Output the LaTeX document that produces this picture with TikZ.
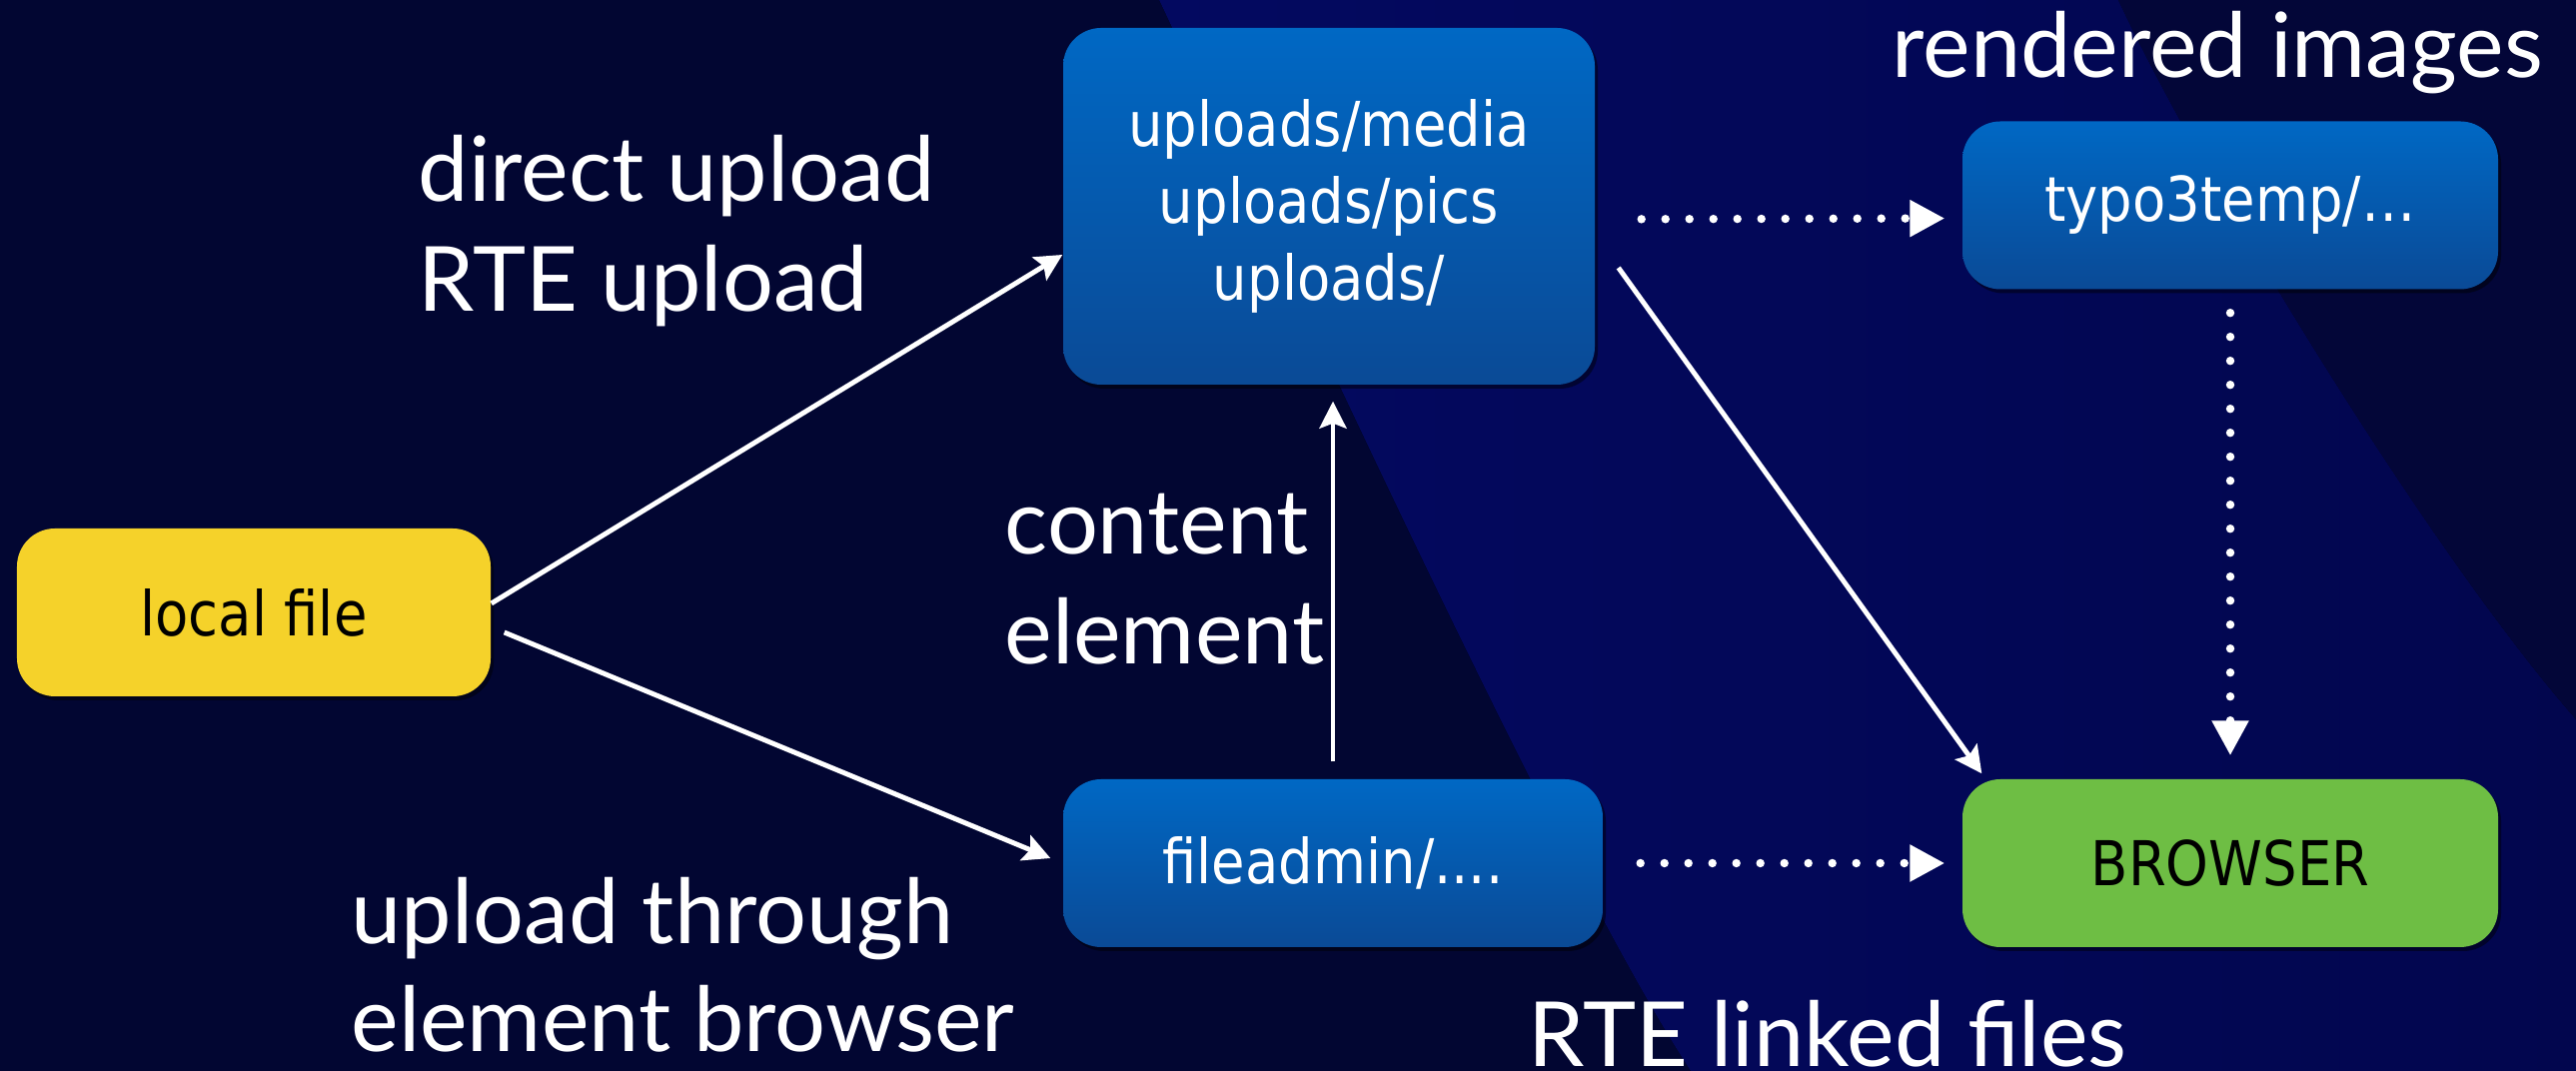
\documentclass[tikz,border=0pt]{standalone}
\usepackage{fontspec}
\setmainfont{Lato}
\newfontfamily\boxfont[FakeStretch=0.88]{DejaVu Sans}
\usetikzlibrary{arrows.meta,shadows}
\definecolor{bgleft}{RGB}{2,6,50}
\definecolor{bgright}{RGB}{3,6,56}
\definecolor{bandl}{RGB}{3,9,96}
\definecolor{bandr}{RGB}{2,6,78}
\definecolor{boxtop}{RGB}{0,104,196}
\definecolor{boxbot}{RGB}{10,74,150}
\definecolor{fileyel}{RGB}{245,210,42}
\definecolor{browgreen}{RGB}{110,190,68}
\begin{document}
\begin{tikzpicture}[
  box/.style={rounded corners=0.38cm, minimum width=5.36cm, minimum height=1.68cm, inner sep=0pt,
    align=center, font=\boxfont\fontsize{17.6}{21.9}\selectfont,
    drop shadow={shadow xshift=0.03cm, shadow yshift=-0.04cm, opacity=0.45, fill=black}},
  bluebox/.style={box, top color=boxtop, bottom color=boxbot, text=white},
  lbl/.style={anchor=base west, inner sep=0pt, text=white, font=\fontsize{25.6}{30}\selectfont},
  arr/.style={white, line width=1.4pt, -{Stealth[length=0.27cm, width=0.27cm, inset=0.05cm]}},
  dots/.style={white, line width=2.4pt, line cap=round, dash pattern=on 0pt off 0.24cm,
    -{Triangle[length=0.35cm, width=0.35cm]}}
]
\useasboundingbox (0,0) rectangle (25.78,10.72);
\fill[bgleft] (0,0) rectangle (25.78,10.72);
\fill[left color=bandl, right color=bandr] (11.60,10.72) .. controls (12.6,8.6) and (15.6,2.0) .. (16.92,0)
  -- (25.78,0) -- (25.78,3.52) .. controls (24.3,5.2) and (22.0,9.0) .. (21.20,10.72) -- cycle;
\fill[bgright] (21.20,10.72) .. controls (22.0,9.0) and (24.3,5.2) .. (25.78,3.52) -- (25.78,10.72) -- cycle;

\node[box, fill=fileyel, minimum width=4.74cm] (local) at (2.54,4.59) {local file};
\node[bluebox, minimum width=5.32cm, minimum height=3.57cm] (uploads) at (13.30,8.655) {uploads/media\\uploads/pics\\uploads/};
\node[bluebox] (typo) at (22.32,8.665) {typo3temp/…};
\node[bluebox, minimum width=5.40cm] (fileadmin) at (13.34,2.08) {fileadmin/....};
\node[box, fill=browgreen] (browser) at (22.32,2.08) {BROWSER};

\draw[arr] ([yshift=0.09cm]local.east) -- ([yshift=-0.485cm]uploads.west);
\draw[arr, shorten >=0.13cm] ([shift={(0.13,-0.20)}]local.east) -- (fileadmin.west);
\draw[arr, shorten <=0.17cm, shorten >=0.16cm] (fileadmin.north) -- (fileadmin.north |- uploads.south);
\draw[arr] ([shift={(0.23,-0.615)}]uploads.east) -- ([shift={(0.2,0.05)}]browser.north west);
\draw[dots, shorten <=0.46cm, shorten >=0.17cm] ([yshift=-0.13cm]uploads.east) -- ([yshift=-0.13cm]typo.west);
\draw[dots, shorten <=0.37cm, shorten >=0.17cm] (fileadmin.east) -- (browser.west);
\draw[dots, shorten <=0.23cm, shorten >=0.23cm] (typo.south) -- (browser.north);

\node[lbl] (dirup) at (4.18,8.70) {direct upload};
\node[lbl] (rteup) at (4.18,7.60) {RTE upload};
\node[lbl] (cont) at (10.05,5.17) {content};
\node[lbl] (elem) at (10.05,4.07) {element};
\node[lbl] (upthr) at (3.51,1.27) {upload through};
\node[lbl] (elbrow) at (3.51,0.19) {element browser};
\node[lbl] (rtelink) at (15.29,0.04) {RTE linked files};
\node[lbl] (rendimg) at (18.93,9.94) {rendered images};
\end{tikzpicture}
\end{document}
